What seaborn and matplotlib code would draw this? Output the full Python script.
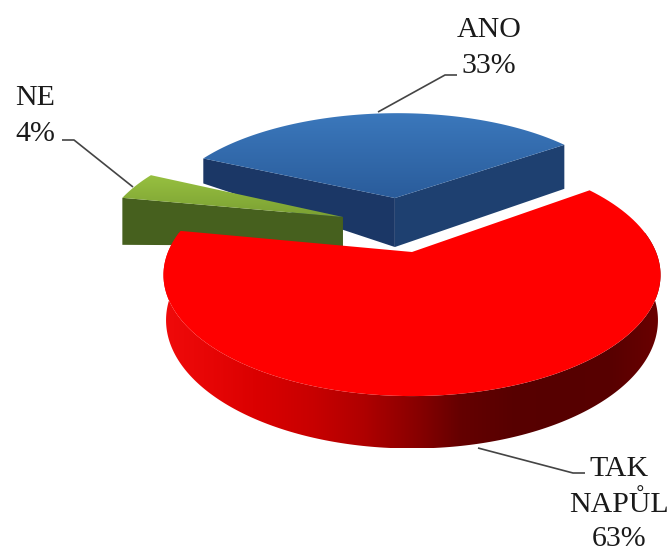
import numpy as np
import seaborn as sns
import matplotlib
matplotlib.use("Agg")
import matplotlib.pyplot as plt
from matplotlib.patches import Polygon

# data
labels = ["ANO", "NE", "TAK NAPŮL"]
values = [33, 4, 63]
label_text = ["ANO\n33%", "NE\n4%", "TAK\nNAPŮL\n63%"]

# perspective of the flat pie (pixels), found by measuring the rim
APEX_X, APEX_Y = 412, 252
RADIUS = 244
TILT = 116.7
PERSP = 0.19
START_ANGLE = 36

# explode offset and radius of every slice, in pie radius units
offsets = [(-0.077, 0.507), (-0.30, 0.318), (0.0, 0.0)]
radii = [1.03, 1.02, 1.0]
# height of the cut faces: at first rim corner, apex, last rim corner
face_depth = [(44, 49, 25), (None, 29, 47), None]
top_colors = [["#3b78bc", "#2a5c9b"], ["#97c040", "#7ba033"], ["#ff0000", "#ff0000"]]
face_colors = [("#1e4070", "#1b3766"), (None, "#46601e"), None]
rim_colors = ["#f00a0a", "#e60505", "#d80000", "#c80000", "#b00000", "#8c0000",
              "#640000", "#580000", "#560000", "#580000", "#6a0000"]
RIM_DEPTH = 44

# label position (centre x, last baseline y), line spacing, and the leader line
leader_lines = [
    [(378, 112), (445, 75), (457, 75)],
    [(133, 187), (74, 140), (62, 140)],
    [(478, 448), (573, 473), (585, 473)],
]
text_pos = [(489, 73), (35, 141), (619, 546)]
text_spacing = [1.48, 1.48, 1.42]


def project(x, y, drop=0.0):
    w = 1 + PERSP * y
    return APEX_X + RADIUS * x / w, APEX_Y - TILT * y / w + drop / w


def slice_outline(a0, a1, off, r):
    ang = np.radians(np.linspace(a0, a1, 120))
    xs = off[0] + r * np.cos(ang)
    ys = off[1] + r * np.sin(ang)
    px, py = project(xs, ys)
    apex = project(off[0], off[1])
    return np.column_stack([np.r_[apex[0], px], np.r_[apex[1], py]])


def draw_gradient(ax, pts, colors, z, horizontal=False):
    cmap = sns.blend_palette(colors, as_cmap=True)
    ext = [pts[:, 0].min(), pts[:, 0].max(), pts[:, 1].max(), pts[:, 1].min()]
    ramp = np.linspace(0, 1, 256)
    ramp = ramp[None, :] if horizontal else ramp[:, None]
    im = ax.imshow(ramp, extent=ext, cmap=cmap, aspect="auto", zorder=z, vmin=0, vmax=1)
    patch = Polygon(pts, closed=True, transform=ax.transData, fc="none", ec="none")
    ax.add_patch(patch)
    im.set_clip_path(patch)


sns.set_theme(style="white")
plt.rcParams["font.family"] = ["Liberation Serif", "DejaVu Serif"]

fig = plt.figure(figsize=(6.72, 5.53), dpi=100)
ax = fig.add_axes([0, 0, 1, 1])

edges = START_ANGLE + np.r_[0, np.cumsum(values)] * 360.0 / sum(values)

for i in range(len(values)):
    z = 2 + i * 3
    a0, a1 = edges[i], edges[i + 1]
    off, r = offsets[i], radii[i]
    pts = slice_outline(a0, a1, off, r)

    if face_depth[i] is None:
        # round outer wall, front part only, shaded left to right
        seg = np.radians(np.linspace(170, 370, 240))
        tx, ty = project(off[0] + r * np.cos(seg), off[1] + r * np.sin(seg))
        bx, by = project(off[0] + 0.99 * r * np.cos(seg), off[1] + 0.99 * r * np.sin(seg), RIM_DEPTH)
        wall = np.column_stack([np.r_[tx, bx[::-1]], np.r_[ty, by[::-1]]])
        draw_gradient(ax, wall, rim_colors, z, horizontal=True)
    else:
        d0, dm, d1 = face_depth[i]
        apex = pts[0]
        if d0 is not None:
            c = pts[1]
            ax.fill([c[0], apex[0], apex[0], c[0]], [c[1], apex[1], apex[1] + dm, c[1] + d0],
                    color=face_colors[i][0], lw=0, zorder=z)
        c = pts[-1]
        ax.fill([c[0], apex[0], apex[0], c[0]], [c[1], apex[1], apex[1] + dm, c[1] + d1],
                color=face_colors[i][1], lw=0, zorder=z)
    draw_gradient(ax, pts, top_colors[i], z + 1)

for line, txt, pos, sp in zip(leader_lines, label_text, text_pos, text_spacing):
    lx, ly = zip(*line)
    ax.plot(lx, ly, color="#444444", lw=1.2, zorder=20, solid_capstyle="butt")
    ax.text(pos[0], pos[1], txt, ha="center", va="baseline", multialignment="center",
            fontsize=21.5, color="#1a1a1a", linespacing=sp, zorder=21)

ax.set_xlim(0, 672)
ax.set_ylim(553, 0)
ax.axis("off")
fig.savefig("out.png", dpi=100, facecolor="white")
